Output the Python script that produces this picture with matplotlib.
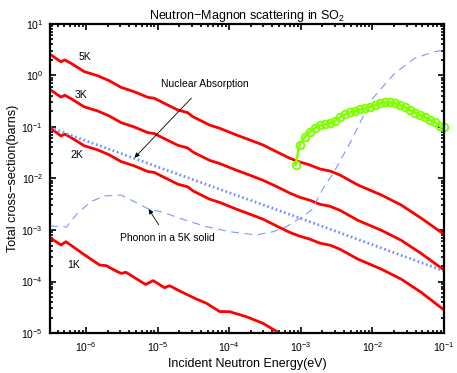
import matplotlib
matplotlib.use("Agg")
import matplotlib.pyplot as plt
from matplotlib.ticker import LogLocator, NullFormatter

plt.rcParams['font.family'] = ['Liberation Sans', 'DejaVu Sans']
plt.rcParams['mathtext.fontset'] = 'custom'
plt.rcParams['mathtext.rm'] = 'Liberation Sans'
plt.rcParams['mathtext.it'] = 'Liberation Sans:italic'

# energies (eV) shared by the 5K / 3K / 2K curves
e_main = [3.14e-7, 4.45e-7, 5.06e-7, 6.14e-7, 9.44e-7, 1.45e-6, 2.11e-6, 3.07e-6,
          4.72e-6, 7.24e-6, 8.99e-6, 1.24e-5, 1.91e-5, 2.63e-5, 3.12e-5, 5.33e-5,
          7.36e-5, 1.26e-4, 1.94e-4, 2.97e-4, 4.57e-4, 7.02e-4, 9.68e-4, 1.34e-3,
          1.85e-3, 2.55e-3, 3.51e-3, 6.27e-3, 1.33e-2, 2.53e-2, 4.82e-2, 0.1]
sig_5k = [2.58, 1.85, 2.00, 1.73, 1.19, 0.991, 0.792, 0.590, 0.484, 0.378, 0.361,
          0.288, 0.214, 0.190, 0.158, 0.109, 0.0944, 0.0700, 0.0560, 0.0447, 0.0331,
          0.0247, 0.0209, 0.0183, 0.0153, 0.0140, 0.0117, 0.00748, 0.00479, 0.00305,
          0.00169, 0.000826]
sig_3k = [0.533, 0.382, 0.413, 0.357, 0.246, 0.205, 0.164, 0.122, 0.100, 0.078,
          0.0745, 0.0595, 0.0442, 0.0392, 0.0326, 0.0225, 0.0195, 0.0145, 0.0116,
          0.00923, 0.00700, 0.00520, 0.00432, 0.00378, 0.00316, 0.00289, 0.00242,
          0.00154, 0.000989, 0.000630, 0.000349, 0.000167]
sig_2k = [0.097, 0.0672, 0.0726, 0.0628, 0.0432, 0.0360, 0.0288, 0.0214, 0.0176,
          0.0137, 0.0131, 0.0105, 0.00777, 0.00690, 0.00574, 0.00396, 0.00343,
          0.00254, 0.00203, 0.00162, 0.00120, 0.000897, 0.000759, 0.000664, 0.000555,
          0.000508, 0.000425, 0.000272, 0.000174, 0.000111, 6.13e-5, 2.8e-5]

e_1k = [3.14e-7, 4.47e-7, 5.25e-7, 8.93e-7, 1.55e-6, 1.91e-6, 2.63e-6, 3.09e-6,
        3.62e-6, 6.79e-6, 8.65e-6, 1.25e-5, 1.47e-5, 2.03e-5, 3.48e-5, 4.80e-5,
        7.36e-5, 1.02e-4, 1.74e-4, 2.97e-4, 5.08e-4, 7.02e-4]
sig_1k = [7.08e-4, 5.12e-4, 5.93e-4, 3.50e-4, 2.09e-4, 2.03e-4, 1.60e-4, 1.44e-4,
          1.51e-4, 8.75e-5, 1.04e-4, 7.59e-5, 8.28e-5, 6.55e-5, 4.57e-5, 3.78e-5,
          2.61e-5, 2.59e-5, 2.07e-5, 1.54e-5, 9.86e-6, 7.64e-6]

# nuclear absorption (1/v)
e_abs = [3.14e-7, 1e-5, 1e-3, 0.1]
sig_abs = [0.097, 0.0168, 0.00168, 1.6e-4]

# phonon scattering in a 5K solid
e_ph = [3.14e-7, 5.33e-7, 7.60e-7, 1.17e-6, 1.79e-6, 3.09e-6, 4.72e-6, 7.24e-6,
        1.24e-5, 2.03e-5, 4.80e-5, 1.02e-4, 2.40e-4, 4.10e-4, 6.31e-4, 9.68e-4,
        1.42e-3, 2.05e-3, 2.83e-3, 4.84e-3, 9.62e-3, 2.04e-2, 3.89e-2, 7.41e-2, 0.1]
sig_ph = [1.20e-3, 1.14e-3, 2.11e-3, 3.55e-3, 4.57e-3, 4.79e-3, 3.55e-3, 2.61e-3,
          2.17e-3, 1.69e-3, 1.16e-3, 9.27e-4, 8.0e-4, 9.27e-4, 1.16e-3, 1.69e-3,
          2.44e-3, 6.46e-3, 1.26e-2, 4.82e-2, 0.334, 1.10, 2.16, 2.90, 3.13]

# neutron-magnon scattering
e_mag = [8.43e-4, 9.59e-4, 1.14e-3, 1.34e-3, 1.57e-3, 1.85e-3, 2.17e-3, 2.55e-3,
         2.99e-3, 3.51e-3, 4.12e-3, 4.84e-3, 5.69e-3, 6.68e-3, 7.85e-3, 9.23e-3,
         1.08e-2, 1.27e-2, 1.50e-2, 1.76e-2, 2.07e-2, 2.43e-2, 2.85e-2, 3.34e-2,
         3.93e-2, 4.61e-2, 5.42e-2, 6.37e-2, 7.48e-2, 8.79e-2, 0.1]
sig_mag = [0.0183, 0.0447, 0.0649, 0.0811, 0.0970, 0.109, 0.113, 0.118, 0.132, 0.154,
           0.176, 0.193, 0.207, 0.221, 0.231, 0.248, 0.267, 0.288, 0.302, 0.302, 0.288,
           0.267, 0.242, 0.214, 0.190, 0.171, 0.154, 0.137, 0.123, 0.104, 0.0986]

x_major = [1e-6, 1e-5, 1e-4, 1e-3, 1e-2, 1e-1]
y_major = [1e-5, 1e-4, 1e-3, 1e-2, 1e-1, 1e0, 1e1]

fig = plt.figure(figsize=(4.57, 3.73), dpi=100)
ax = fig.add_axes([0.1094, 0.1072, 0.8622, 0.8285])

red = '#ff0000'
for sig in (sig_5k, sig_3k, sig_2k):
    ax.plot(e_main, sig, color=red, lw=2.0)
ax.plot(e_1k, sig_1k, color=red, lw=2.0)
ax.plot(e_abs, sig_abs, color='#6f8cff', lw=2.0, ls=(0, (0.6, 1.0)))
ax.plot(e_ph, sig_ph, color='#7d96ff', lw=0.8, ls=(0, (7, 5)))
ax.plot(e_mag, sig_mag, color='#7fff00', lw=1.8, marker='o', ms=5.5,
        mfc='none', mec='#7fff00', mew=1.4, clip_on=False)

ax.set_xscale('log')
ax.set_yscale('log')
ax.set_xlim(3.14e-7, 0.1)
ax.set_ylim(1e-5, 10)

ax.set_xticks(x_major)
ax.set_yticks(y_major)
ax.xaxis.set_minor_locator(LogLocator(base=10, subs=range(2, 10), numticks=20))
ax.xaxis.set_minor_formatter(NullFormatter())
ax.yaxis.set_minor_locator(LogLocator(base=10, subs=range(2, 10), numticks=20))
ax.yaxis.set_minor_formatter(NullFormatter())
ax.tick_params(which='both', direction='in', top=True, right=True, labelsize=7.5, width=1.2)
ax.tick_params(which='major', length=4.5, pad=5)
ax.tick_params(which='minor', length=2.5)
for s in ax.spines.values():
    s.set_linewidth(1.6)

ax.set_title('Neutron\u2212Magnon scattering in SO$_2$', fontsize=9, pad=3)
ax.set_xlabel('Incident Neutron Energy(eV)', fontsize=9, labelpad=3)
ax.set_ylabel('Total cross\u2212section(barns)', fontsize=9, labelpad=2)

lab = 7.5
ax.text(9.5e-7, 2.32, '5K', fontsize=lab, ha='center', va='center')
ax.text(8.57e-7, 0.418, '3K', fontsize=lab, ha='center', va='center')
ax.text(7.43e-7, 0.0286, '2K', fontsize=lab, ha='center', va='center')
ax.text(6.68e-7, 2.09e-4, '1K', fontsize=lab, ha='center', va='center')

ax.annotate('Nuclear Absorption', xy=(4.76e-6, 0.0253), xytext=(4.52e-5, 0.674),
            fontsize=lab, ha='center', va='center',
            arrowprops=dict(arrowstyle='-|>', color='black', lw=0.6,
                            mutation_scale=7, shrinkA=6, shrinkB=0))
ax.annotate('Phonon in a 5K solid', xy=(7.48e-6, 2.56e-3), xytext=(1.37e-5, 6.9e-4),
            fontsize=lab, ha='center', va='center',
            arrowprops=dict(arrowstyle='-|>', color='black', lw=0.6,
                            mutation_scale=7, shrinkA=5, shrinkB=0))

fig.savefig('out.png', dpi=100)
